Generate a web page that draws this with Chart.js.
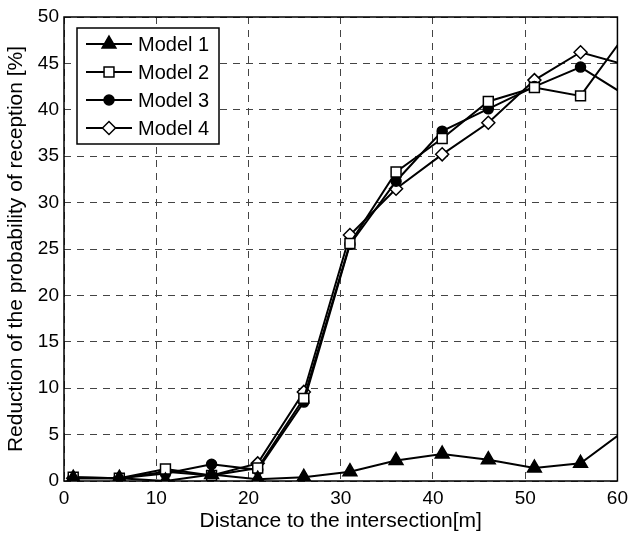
<!DOCTYPE html>
<html>
<head>
<meta charset="utf-8">
<script src="https://cdn.jsdelivr.net/npm/chart.js@4.4.1/dist/chart.umd.min.js"></script>
<style>
  html, body { margin: 0; padding: 0; background: #fff; }
  #wrap { width: 634px; height: 534px; }
</style>
</head>
<body>
<div id="wrap"><canvas id="chartModelos"></canvas></div>
<script>
const distancias = [1, 6, 11, 16, 21, 26, 31, 36, 41, 46, 51, 56, 61];
const modelo1 = [0.3, 0.3, 0.0, 0.7, 0.2, 0.4, 1.0, 2.2, 2.9, 2.3, 1.4, 1.9, 5.6];
const modelo2 = [0.4, 0.3, 1.3, 0.6, 1.4, 8.9, 25.6, 33.3, 36.9, 40.9, 42.4, 41.5, 48.3];
const modelo3 = [0.4, 0.3, 0.8, 1.8, 1.2, 8.5, 25.5, 32.3, 37.7, 40.1, 42.5, 44.6, 41.5];
const modelo4 = [0.3, 0.3, 1.0, 0.6, 1.9, 9.6, 26.5, 31.5, 35.2, 38.6, 43.2, 46.2, 44.8];
const nombres = ['Model 1', 'Model 2', 'Model 3', 'Model 4'];
const xTicks = [0, 10, 20, 30, 40, 50, 60];
const yTicks = [0, 5, 10, 15, 20, 25, 30, 35, 40, 45, 50];

const fuente = 'Liberation Sans, Arial, Helvetica, sans-serif';

const puntos = (valores) => distancias.map((x, i) => ({ x: x, y: valores[i] }));

const serie = (label, valores, estilo, radio, relleno) => ({
    label: label,
    data: puntos(valores),
    borderColor: '#000',
    borderWidth: 2,
    pointStyle: estilo,
    pointRadius: radio,
    pointHoverRadius: radio,
    pointBackgroundColor: relleno,
    pointBorderColor: '#000',
    pointBorderWidth: 1.5,
    tension: 0
});

// leyenda con recuadro dentro del area de datos
const leyendaCaja = {
    id: 'leyendaCaja',
    afterDraw(chart) {
        const ctx = chart.ctx;
        ctx.save();
        ctx.fillStyle = '#fff';
        ctx.fillRect(77, 28, 142, 116);
        ctx.strokeStyle = '#000';
        ctx.lineWidth = 1.5;
        ctx.strokeRect(77, 28, 142, 116);
        chart.data.datasets.forEach((ds, i) => {
            const y = 44 + i * 28;
            ctx.strokeStyle = '#000';
            ctx.lineWidth = 2;
            ctx.beginPath();
            ctx.moveTo(86, y);
            ctx.lineTo(132, y);
            ctx.stroke();
            ctx.fillStyle = ds.pointBackgroundColor;
            ctx.strokeStyle = '#000';
            ctx.lineWidth = ds.pointBorderWidth;
            Chart.helpers.drawPoint(ctx, {
                pointStyle: ds.pointStyle,
                radius: ds.pointRadius,
                borderWidth: ds.pointBorderWidth,
                rotation: 0
            }, 109, y);
            ctx.fillStyle = '#000';
            ctx.font = '20px ' + fuente;
            ctx.textBaseline = 'middle';
            ctx.textAlign = 'left';
            ctx.fillText(ds.label, 138, y + 1);
        });
        ctx.restore();
    }
};

const marco = {
    id: 'marco',
    afterDatasetsDraw(chart) {
        const a = chart.chartArea;
        const ctx = chart.ctx;
        ctx.save();
        ctx.strokeStyle = '#000';
        ctx.lineWidth = 1.5;
        ctx.strokeRect(a.left, a.top, a.right - a.left, a.bottom - a.top);
        ctx.restore();
    }
};

const context = document.getElementById('chartModelos').getContext('2d');

const chartModelos = new Chart(context, {
    type: 'line',
    data: {
        datasets: [
            serie(nombres[0], modelo1, 'triangle', 8, '#000'),
            serie(nombres[1], modelo2, 'rect', 7, '#fff'),
            serie(nombres[2], modelo3, 'circle', 5, '#000'),
            serie(nombres[3], modelo4, 'rectRot', 6.5, '#fff')
        ]
    },
    options: {
        responsive: true,
        maintainAspectRatio: false,
        animation: false,
        layout: { padding: { top: 17, right: 12, left: 0, bottom: 0 } },
        plugins: {
            legend: { display: false },
            tooltip: { enabled: false }
        },
        scales: {
            x: {
                type: 'linear',
                min: 0,
                max: 60,
                afterFit: (scale) => { scale.height = 53; },
                afterBuildTicks: (scale) => { scale.ticks = xTicks.map(v => ({ value: v })); },
                ticks: { color: '#000', padding: 6, font: { family: fuente, size: 19 } },
                grid: { color: '#444', drawTicks: false },
                border: { display: false, dash: [7, 6] },
                title: {
                    display: true,
                    text: 'Distance to the intersection[m]',
                    color: '#000',
                    font: { family: fuente, size: 21 },
                    padding: { top: 0, bottom: 0 }
                }
            },
            y: {
                min: 0,
                max: 50,
                afterFit: (scale) => { scale.width = 64; },
                afterBuildTicks: (scale) => { scale.ticks = yTicks.map(v => ({ value: v })); },
                ticks: { color: '#000', padding: 5, font: { family: fuente, size: 19 } },
                grid: { color: '#444', drawTicks: false },
                border: { display: false, dash: [7, 6] },
                title: {
                    display: true,
                    text: 'Reduction of the probability of reception [%]',
                    color: '#000',
                    font: { family: fuente, size: 21 },
                    padding: { top: 4, bottom: 0 }
                }
            }
        }
    },
    plugins: [marco, leyendaCaja]
});
</script>
</body>
</html>
